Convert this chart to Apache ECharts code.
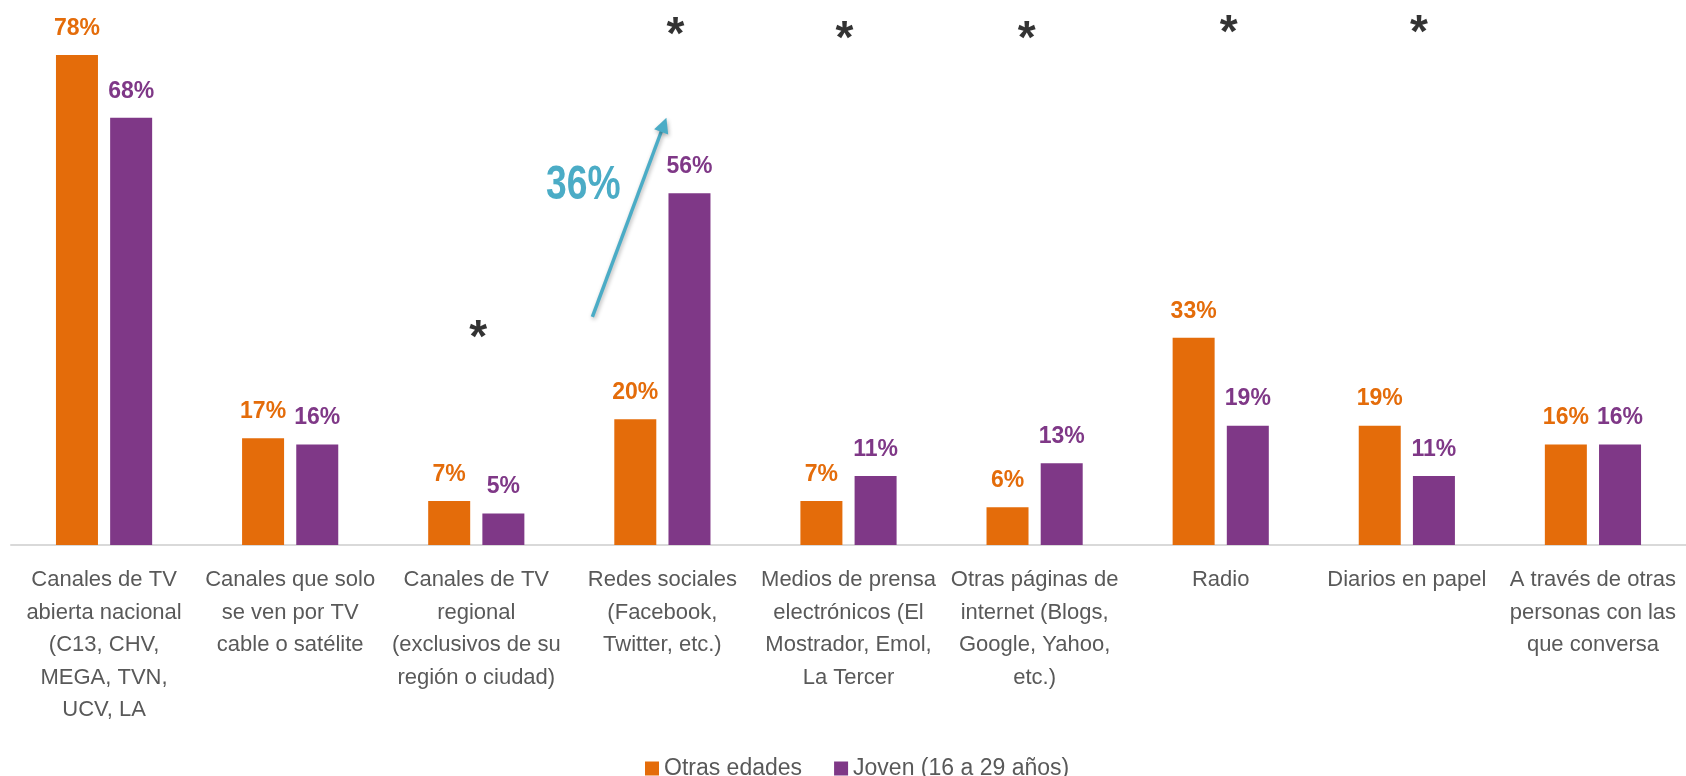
<!DOCTYPE html>
<html>
<head>
<meta charset="utf-8">
<title>Medios</title>
<script src="https://cdn.jsdelivr.net/npm/echarts@6/dist/echarts.min.js"></script>
<style>
  * { margin: 0; padding: 0 }
  html, body { width: 100%; height: 100%; background: #fff; }
  #main { width: 1686px; height: 776px; }
</style>
</head>
<body>
<div id="main"></div>
<script>
var categorias = [
  'Canales de TV\nabierta nacional\n(C13, CHV,\nMEGA, TVN,\nUCV, LA',
  'Canales que solo\nse ven por TV\ncable o satélite',
  'Canales de TV\nregional\n(exclusivos de su\nregión o ciudad)',
  'Redes sociales\n(Facebook,\nTwitter, etc.)',
  'Medios de prensa\nelectrónicos (El\nMostrador, Emol,\nLa Tercer',
  'Otras páginas de\ninternet (Blogs,\nGoogle, Yahoo,\netc.)',
  'Radio',
  'Diarios en papel',
  'A través de otras\npersonas con las\nque conversa'
];
var otrasEdades = [78, 17, 7, 20, 7, 6, 33, 19, 16];
var joven = [68, 16, 5, 56, 11, 13, 19, 11, 16];
// asteriscos de diferencia significativa: [categoria, altura en %]
var asteriscos = [[2, 34.5], [3, 82.7], [4, 82.1], [5, 82.1], [6, 83.1], [7, 83.1]];
// flecha de Redes sociales: desde / hasta (en %), y texto
var flechaDesde = 36.3, flechaHasta = 68, flechaTexto = '36%';

var FUENTE = "'Liberation Sans', Arial, sans-serif";
var NARANJA = '#E46C0A', MORADO = '#7F3887', CELESTE = '#4BACC6';
var corrimientoAst = [2, 13, -4, -8, 8, 12]; // ajuste horizontal de cada asterisco (px)

var chart = echarts.init(document.getElementById('main'));

function etiqueta(color) {
  return {
    show: true,
    position: 'top',
    distance: 15,
    color: color,
    fontFamily: FUENTE,
    fontWeight: 'bold',
    fontSize: 23,
    formatter: '{c}%'
  };
}

chart.setOption({
  animation: false,
  grid: { left: 11, width: 1681, top: 11, height: 534 },
  legend: {
    left: 640,
    top: 752,
    itemWidth: 14,
    itemHeight: 14,
    itemGap: 32,
    icon: 'rect',
    textStyle: { fontFamily: FUENTE, fontSize: 23, color: '#595959' },
    data: ['Otras edades', 'Joven (16 a 29 años)']
  },
  xAxis: {
    type: 'category',
    data: categorias,
    axisTick: { show: false },
    axisLine: { lineStyle: { color: '#D9D9D9', width: 2 } },
    axisLabel: {
      interval: 0,
      margin: 19,
      color: '#595959',
      fontFamily: FUENTE,
      fontSize: 22,
      lineHeight: 32.5
    }
  },
  yAxis: { type: 'value', min: 0, max: 85, show: false, splitLine: { show: false } },
  series: [
    {
      name: 'Otras edades',
      type: 'bar',
      barWidth: 42,
      barGap: '29%',
      itemStyle: { color: NARANJA },
      label: etiqueta(NARANJA),
      data: otrasEdades
    },
    {
      name: 'Joven (16 a 29 años)',
      type: 'bar',
      barWidth: 42,
      itemStyle: { color: MORADO },
      label: etiqueta(MORADO),
      data: joven
    },
    {
      name: 'sig',
      type: 'scatter',
      symbolSize: 0,
      silent: true,
      label: {
        show: true,
        position: 'inside',
        formatter: '*',
        color: '#000',
        fontFamily: FUENTE,
        fontWeight: 'bold',
        fontSize: 46
      },
      data: asteriscos.map(function (a, i) {
        return { value: a, label: { offset: [corrimientoAst[i], 11] } };
      })
    }
  ]
});

// flecha y texto de la diferencia en Redes sociales
var p0 = chart.convertToPixel({ gridIndex: 0 }, [3, flechaDesde]);
var p1 = chart.convertToPixel({ gridIndex: 0 }, [3, flechaHasta]);
var x0 = p0[0] - 70, y0 = p0[1];
var x1 = p1[0] + 4, y1 = p1[1];
var ang = Math.atan2(y1 - y0, x1 - x0);
var L = 15, W = 7.5;
var bx = x1 - L * Math.cos(ang), by = y1 - L * Math.sin(ang);
var sombra = { shadowBlur: 4, shadowColor: 'rgba(0,0,0,0.3)', shadowOffsetX: 1, shadowOffsetY: 2 };
chart.setOption({
  graphic: [
    {
      type: 'line',
      shape: { x1: x0, y1: y0, x2: bx + 2 * Math.cos(ang), y2: by + 2 * Math.sin(ang) },
      style: Object.assign({ stroke: CELESTE, lineWidth: 3.5 }, sombra),
      silent: true
    },
    {
      type: 'polygon',
      shape: { points: [
        [x1, y1],
        [bx + W * Math.sin(ang), by - W * Math.cos(ang)],
        [bx - W * Math.sin(ang), by + W * Math.cos(ang)]
      ] },
      style: Object.assign({ fill: CELESTE }, sombra),
      silent: true
    },
    {
      type: 'text',
      x: p0[0] - 79,
      y: chart.convertToPixel({ gridIndex: 0 }, [3, 57.2])[1],
      scaleX: 0.76,
      style: {
        text: flechaTexto,
        fill: CELESTE,
        font: 'bold 49px ' + FUENTE,
        align: 'center',
        verticalAlign: 'middle'
      },
      silent: true
    }
  ]
});
</script>
</body>
</html>
